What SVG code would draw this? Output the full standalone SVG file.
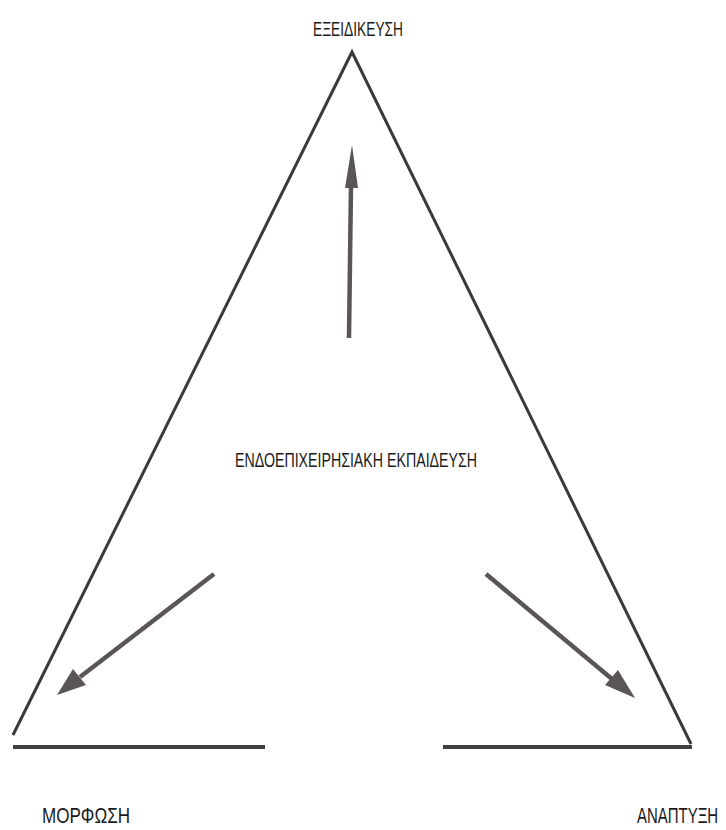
<svg xmlns="http://www.w3.org/2000/svg" width="726" height="830" viewBox="0 0 726 830">
<style>
.tri{fill:none;stroke:#3a3a3a;stroke-width:3;stroke-linecap:butt;stroke-linejoin:miter}
.base{fill:none;stroke:#404040;stroke-width:4}
.arr{fill:none;stroke:#5a5558;stroke-width:4.5}
.head{fill:#5a5558}
.lbl{font-family:"Liberation Sans","DejaVu Sans",sans-serif;fill:#1a1a1a}
</style>
<rect width="726" height="830" fill="#ffffff"/>
<g id="triangle">
<polyline class="tri" points="13,735 352,52 691,744"/>
<line class="base" x1="13" y1="747" x2="265" y2="747"/>
<line class="base" x1="443" y1="747" x2="692" y2="747"/>
</g>
<g id="connectors">
<line class="arr" x1="349" y1="338" x2="351" y2="185"/>
<polygon class="head" points="352,145 358,188 345,188"/>
<line class="arr" x1="214" y1="574" x2="80" y2="677"/>
<polygon class="head" points="57,695 73,669 86,685"/>
<line class="arr" x1="486" y1="574" x2="612" y2="679"/>
<polygon class="head" points="635,698 605,685 618,670"/>
</g>
<g id="node-top"><text class="lbl" x="313" y="36" font-size="20" textLength="90" lengthAdjust="spacingAndGlyphs">ΕΞΕΙΔΙΚΕΥΣΗ</text></g>
<g id="node-center"><text class="lbl" x="235" y="467" font-size="21" textLength="242" lengthAdjust="spacingAndGlyphs">ΕΝΔΟΕΠΙΧΕΙΡΗΣΙΑΚΗ ΕΚΠΑΙΔΕΥΣΗ</text></g>
<g id="node-left"><text class="lbl" x="42" y="823" font-size="22" textLength="88" lengthAdjust="spacingAndGlyphs">ΜΟΡΦΩΣΗ</text></g>
<g id="node-right"><text class="lbl" transform="translate(637,823) scale(0.68,1)" x="0" y="0" font-size="22">ΑΝΑΠΤΥΞΗ</text></g>
</svg>
